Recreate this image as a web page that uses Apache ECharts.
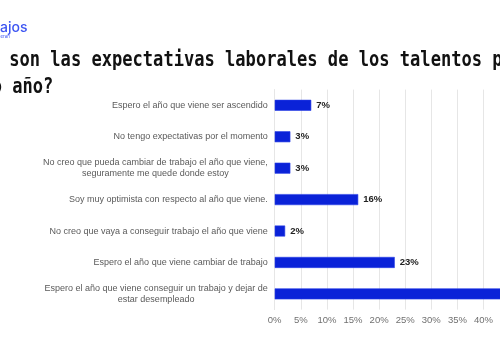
<!DOCTYPE html>
<html>
<head>
<meta charset="utf-8">
<script src="https://cdn.jsdelivr.net/npm/echarts@6/dist/echarts.min.js"></script>
<style>
  html, body { margin: 0; padding: 0; background: #ffffff; }
  #chart { width: 500px; height: 340px; }
</style>
</head>
<body>
<div id="chart"></div>
<script>
// Survey answers, listed top to bottom
const categories = [
  'Espero el año que viene ser ascendido',
  'No tengo expectativas por el momento',
  'No creo que pueda cambiar de trabajo el año que viene,\nseguramente me quede donde estoy',
  'Soy muy optimista con respecto al año que viene.',
  'No creo que vaya a conseguir trabajo el año que viene',
  'Espero el año que viene cambiar de trabajo',
  'Espero el año que viene conseguir un trabajo y dejar de\nestar desempleado'
];
// Share of respondents (%)
const values = [7, 3, 3, 16, 2, 23, 46];
// Percentage axis
const axisMin = 0;
const axisMax = 50;
const axisStep = 5;

const titleLines = [
  '¿Cuáles son las expectativas laborales de los talentos para el',
  'próximo año?'
];
const brandName = 'Trabajos';
const brandTag = 'by Bumeran';

const chart = echarts.init(document.getElementById('chart'), null, { renderer: 'canvas' });

// Multi-line answers: every line centred inside the label block
function labelFormatter(value) {
  return value.split('\n').map(line => '{c|' + line + '}').join('\n');
}

const titleFont = 'bold 22px "DejaVu Sans Mono"';

chart.setOption({
  backgroundColor: '#ffffff',
  animation: false,
  grid: {
    left: 274.7,
    top: 89.6,
    width: 261,
    height: 220,
    containLabel: false,
    outerBoundsMode: 'none'
  },
  xAxis: {
    type: 'value',
    min: axisMin,
    max: axisMax,
    interval: axisStep,
    axisLine: { show: false },
    axisTick: { show: false },
    splitLine: { show: true, lineStyle: { color: '#e6e6e6', width: 1 } },
    axisLabel: {
      formatter: '{value}%',
      color: '#707070',
      fontFamily: 'Liberation Sans',
      fontSize: 9.5,
      margin: 6,
      hideOverlap: false
    }
  },
  yAxis: {
    type: 'category',
    data: categories,
    inverse: true,
    axisLine: { show: true, lineStyle: { color: '#e6e6e6' } },
    axisTick: { show: false },
    axisLabel: {
      formatter: labelFormatter,
      margin: 7,
      align: 'right',
      color: '#5a5a5a',
      fontFamily: 'Liberation Sans',
      fontSize: 9,
      lineHeight: 11,
      rich: {
        c: {
          align: 'center',
          color: '#5a5a5a',
          fontFamily: 'Liberation Sans',
          fontSize: 9,
          lineHeight: 11
        }
      }
    }
  },
  series: [{
    type: 'bar',
    data: values,
    barWidth: 11,
    itemStyle: { color: '#0a22d8', borderColor: '#2a3fe6', borderWidth: 0.6 },
    label: {
      show: true,
      position: 'right',
      distance: 5,
      formatter: '{c}%',
      color: '#222222',
      fontFamily: 'Liberation Sans',
      fontWeight: 'bold',
      fontSize: 9.5
    }
  }],
  graphic: [
    {
      type: 'text',
      x: 27.5, y: 27.5,
      style: {
        text: brandName,
        font: '500 14px Inter',
        fill: '#3d55f2',
        align: 'right',
        verticalAlign: 'middle'
      }
    },
    {
      type: 'text',
      x: 10, y: 36.5,
      style: {
        text: brandTag,
        font: '4.5px Inter',
        fill: '#3d55f2',
        align: 'right',
        verticalAlign: 'middle'
      }
    },
    {
      type: 'text',
      x: -73, y: 60,
      scaleX: 0.776,
      style: {
        text: titleLines[0],
        font: titleFont,
        fill: '#111111',
        align: 'left',
        verticalAlign: 'middle'
      }
    },
    {
      type: 'text',
      x: -70, y: 87,
      scaleX: 0.776,
      style: {
        text: titleLines[1],
        font: titleFont,
        fill: '#111111',
        align: 'left',
        verticalAlign: 'middle'
      }
    }
  ]
});
</script>
</body>
</html>
